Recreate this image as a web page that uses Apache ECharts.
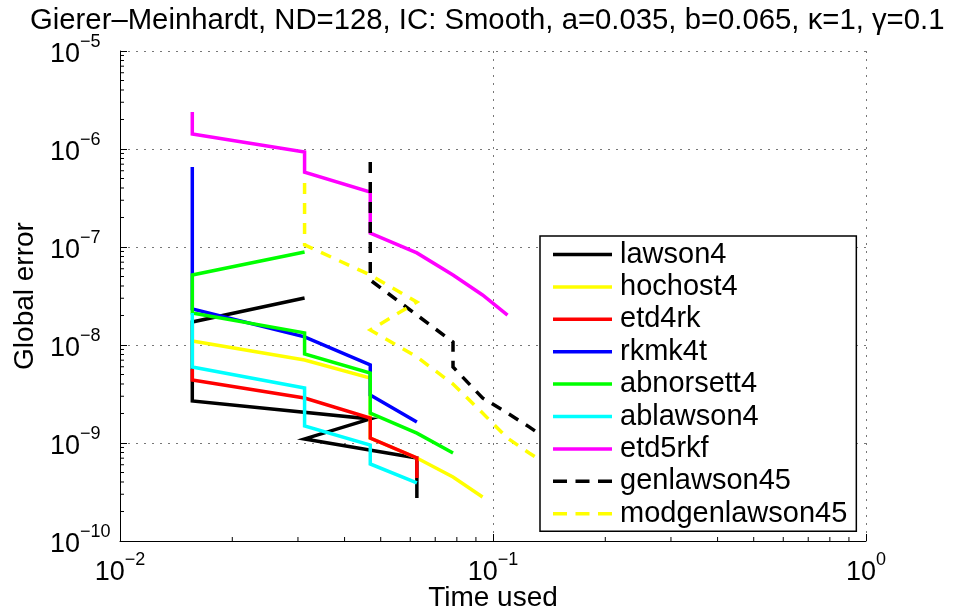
<!DOCTYPE html>
<html><head><meta charset="utf-8">
<script src="https://cdn.jsdelivr.net/npm/echarts@6/dist/echarts.min.js"></script>
<style>html,body{margin:0;padding:0;background:#fff}#c{width:955px;height:616px}</style>
</head><body><div id="c"></div>
<script>
// ---- data (time used [s], global error) ----
const seriesNames = ['lawson4','hochost4','etd4rk','rkmk4t','abnorsett4','ablawson4','etd5rkf','genlawson45','modgenlawson45'];

const lawson4X = [0.03125, 0.015625, 0.015625, 0.046875, 0.03125, 0.0625, 0.0625];
const lawson4Y = [3.02e-8, 1.72e-8, 2.69e-9, 1.76e-9, 1.10e-9, 7.03e-10, 2.75e-10];

const hochost4X = [0.015625, 0.03125, 0.046875, 0.046875, 0.0625, 0.078125, 0.09375];
const hochost4Y = [1.10e-8, 7.03e-9, 4.60e-9, 1.12e-9, 7.03e-10, 4.50e-10, 2.81e-10];

const etd4rkX = [0.015625, 0.015625, 0.03125, 0.046875, 0.046875, 0.0625, 0.0625];
const etd4rkY = [5.69e-9, 4.40e-9, 2.88e-9, 1.80e-9, 1.12e-9, 7.03e-10, 4.40e-10];

const rkmk4tX = [0.015625, 0.015625, 0.03125, 0.046875, 0.046875, 0.0625];
const rkmk4tY = [6.54e-7, 2.33e-8, 1.21e-8, 6.25e-9, 3.09e-9, 1.64e-9];

const abnorsett4X = [0.03125, 0.015625, 0.015625, 0.03125, 0.03125, 0.046875, 0.046875, 0.0625, 0.078125];
const abnorsett4Y = [8.89e-8, 5.18e-8, 2.12e-8, 1.33e-8, 8.09e-9, 5.18e-9, 2.02e-9, 1.26e-9, 7.90e-10];

const ablawson4X = [0.015625, 0.015625, 0.03125, 0.03125, 0.046875, 0.046875, 0.0625];
const ablawson4Y = [2.12e-8, 5.97e-9, 3.64e-9, 1.49e-9, 9.55e-10, 6.11e-10, 3.91e-10];

const etd5rkfX = [0.015625, 0.015625, 0.03125, 0.03125, 0.046875, 0.046875, 0.0625, 0.078125, 0.09375, 0.109375];
const etd5rkfY = [2.39e-6, 1.42e-6, 9.3e-7, 5.8e-7, 3.64e-7, 1.39e-7, 8.7e-8, 5.18e-8, 3.24e-8, 2.02e-8];

const genlawson45X = [0.046875, 0.046875, 0.078125, 0.078125, 0.09375, 0.109375, 0.125, 0.140625];
const genlawson45Y = [7.36e-7, 4.60e-8, 1.07e-8, 5.97e-9, 2.88e-9, 2.02e-9, 1.46e-9, 1.07e-9];

const modgenlawson45X = [0.03125, 0.03125, 0.046875, 0.0625, 0.046875, 0.0625, 0.078125, 0.09375, 0.109375, 0.125, 0.140625];
const modgenlawson45Y = [4.50e-7, 1.05e-7, 5.18e-8, 2.75e-8, 1.42e-8, 7.55e-9, 4.00e-9, 2.02e-9, 1.12e-9, 7.90e-10, 5.97e-10];

const xDecades = [-2, -1, 0];
const yDecades = [-10, -9, -8, -7, -6, -5];

// ---- styles ----
const FF = "'Liberation Sans', Arial, Helvetica, sans-serif";
const styles = [
  {x: lawson4X, y: lawson4Y, color: '#000000', dash: false},
  {x: hochost4X, y: hochost4Y, color: '#ffff00', dash: false},
  {x: etd4rkX, y: etd4rkY, color: '#ff0000', dash: false},
  {x: rkmk4tX, y: rkmk4tY, color: '#0000ff', dash: false},
  {x: abnorsett4X, y: abnorsett4Y, color: '#00ff00', dash: false},
  {x: ablawson4X, y: ablawson4Y, color: '#00ffff', dash: false},
  {x: etd5rkfX, y: etd5rkfY, color: '#ff00ff', dash: false},
  {x: genlawson45X, y: genlawson45Y, color: '#000000', dash: true},
  {x: modgenlawson45X, y: modgenlawson45Y, color: '#ffff00', dash: true}
];

function expLabel(v) {
  const e = Math.round(Math.log10(v));
  return '{b|10}{s|' + (e < 0 ? '\u2212' + (-e) : String(e)) + '}';
}
const rich = {
  b: {fontSize: 27, lineHeight: 35, verticalAlign: 'bottom', fontFamily: FF, color: '#000'},
  s: {fontSize: 18, lineHeight: 10, verticalAlign: 'top', fontFamily: FF, color: '#000'}
};

const minorY = [];
yDecades.slice(0, -1).forEach(e => { for (let k = 2; k <= 9; k++) minorY.push(k * Math.pow(10, e)); });
const minorX = [];
xDecades.slice(0, -1).forEach(e => { for (let k = 2; k <= 9; k++) minorX.push(k * Math.pow(10, e)); });

const series = styles.map((s, i) => ({
  type: 'line',
  name: seriesNames[i],
  data: s.x.map((v, j) => [v, s.y[j]]),
  symbol: 'none',
  showSymbol: false,
  animation: false,
  lineStyle: {color: s.color, width: 3.5, type: s.dash ? [11, 9] : 'solid', join: 'miter', cap: 'butt'},
  itemStyle: {color: s.color}
}));

series.push({
  type: 'custom', name: 'minorY', silent: true, animation: false, clip: false,
  data: minorY.map(v => [Math.pow(10, xDecades[0]), v]),
  renderItem: (p, api) => {
    const c = api.coord([api.value(0), api.value(1)]);
    return {type: 'line', shape: {x1: c[0], y1: c[1], x2: c[0] + 4, y2: c[1]}, style: {stroke: '#000', lineWidth: 1}};
  }
});
series.push({
  type: 'custom', name: 'minorX', silent: true, animation: false, clip: false,
  data: minorX.map(v => [v, Math.pow(10, yDecades[0])]),
  renderItem: (p, api) => {
    const c = api.coord([api.value(0), api.value(1)]);
    return {type: 'line', shape: {x1: c[0], y1: c[1], x2: c[0], y2: c[1] - 4}, style: {stroke: '#000', lineWidth: 1}};
  }
});

const solidIcon = 'rect';
const dashIcon = 'path://M0,0h14v1h-14zM22.5,0h14v1h-14zM45,0h14v1h-14z';

const chart = echarts.init(document.getElementById('c'), null, {renderer: 'canvas'});
chart.setOption({
  backgroundColor: '#fff',
  animation: false,
  title: {
    text: 'Gierer\u2013Meinhardt, ND=128, IC: Smooth, a=0.035, b=0.065, \u03ba=1, \u03b3=0.1',
    left: 30, top: 6, padding: 0,
    textStyle: {fontSize: 29.3, fontWeight: 'normal', fontFamily: FF, color: '#000'}
  },
  grid: {left: 120, right: 89, top: 51, bottom: 75, containLabel: false, outerBoundsMode: 'none'},
  legend: {
    data: seriesNames.map((n, i) => ({name: n, icon: styles[i].dash ? dashIcon : solidIcon})),
    orient: 'vertical', left: 540, top: 236,
    backgroundColor: '#fff', borderColor: '#000', borderWidth: 1.5, borderRadius: 0,
    padding: [4, 9, 3, 13],
    itemWidth: 59, itemHeight: 3.5, itemGap: 3.4,
    symbolKeepAspect: false,
    textStyle: {fontSize: 29, fontFamily: FF, color: '#000', padding: [0, 0, 0, 3]}
  },
  xAxis: {
    type: 'log', logBase: 10, min: 0.01, max: 1,
    name: 'Time used', nameLocation: 'middle', nameGap: 43, nameMoveOverlap: false,
    nameTextStyle: {fontSize: 28, fontFamily: FF, color: '#000'},
    axisLine: {onZero: false, lineStyle: {color: '#000', width: 1}},
    axisTick: {inside: true, length: 7, lineStyle: {color: '#000'}},
    axisLabel: {formatter: expLabel, rich: rich, margin: 10},
    splitLine: {show: true, lineStyle: {type: [2, 6], color: '#777', width: 1}}
  },
  yAxis: {
    type: 'log', logBase: 10, min: 1e-10, max: 1e-5,
    name: 'Global error', nameLocation: 'middle', nameGap: 81, nameMoveOverlap: false,
    nameTextStyle: {fontSize: 28, fontFamily: FF, color: '#000'},
    axisLine: {onZero: false, lineStyle: {color: '#000', width: 1}},
    axisTick: {inside: true, length: 7, lineStyle: {color: '#000'}},
    axisLabel: {formatter: expLabel, rich: rich, margin: 70, align: 'left'},
    splitLine: {show: true, lineStyle: {type: [2, 6], color: '#777', width: 1}}
  },
  series: series
});
</script></body></html>
